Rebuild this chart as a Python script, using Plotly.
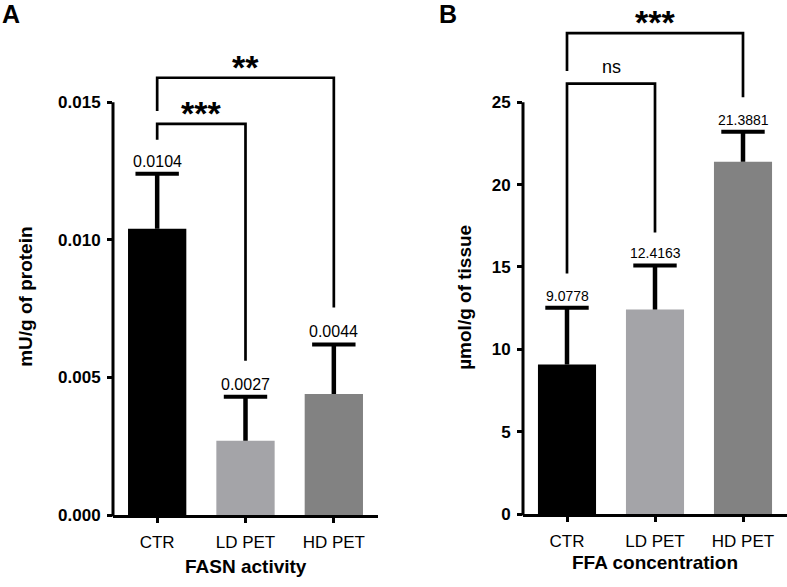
import plotly.graph_objects as go

# ---------------- data ----------------
categories = ["CTR", "LD PET", "HD PET"]
bar_colors = ["#000000", "#a4a4a8", "#828282"]

fasn_mean = [0.0104, 0.0027, 0.0044]
fasn_err = [0.0020, 0.0016, 0.0018]
fasn_ticks = [0.0, 0.005, 0.010, 0.015]
fasn_ticktext = ["0.000", "0.005", "0.010", "0.015"]

ffa_mean = [9.0778, 12.4163, 21.3881]
ffa_err = [3.45, 2.68, 1.82]
ffa_ticks = [0, 5, 10, 15, 20, 25]

# significance brackets: (cat_a, cat_b, leg_a_bottom, top, leg_b_bottom, label)
fasn_brackets = [
    ("CTR", "LD PET", 0.01364, 0.01421, 0.00561, "***"),
    ("CTR", "HD PET", 0.01468, 0.01589, 0.00754, "**"),
]
ffa_brackets = [
    ("CTR", "LD PET", 14.6, 26.13, 17.1, "ns"),
    ("CTR", "HD PET", 26.9, 29.2, 25.3, "***"),
]

# ---------------- layout constants ----------------
W, H = 787, 587
FONT = "Liberation Sans, Arial, sans-serif"
A_YMAX, B_YMAX = 0.0168, 30.0
A_XDOM = [113 / W, 378 / W]
B_XDOM = [523 / W, 787 / W]
A_YDOM = [1 - 524 / H, 1 - 53.6 / H]
B_YDOM = [1 - 523 / H, 1 - 20.2 / H]
LW = 3.0
BLW = 2.7

fig = go.Figure()


def add_panel(fig, xa, ya, means, errs, brackets, lab_size, star_size):
    tops = [m + e for m, e in zip(means, errs)]
    fig.add_trace(go.Bar(
        x=categories, y=means, xaxis=xa, yaxis=ya,
        marker=dict(color=bar_colors, line=dict(width=0)),
        width=0.66,
        error_y=dict(type="data", symmetric=False, array=errs,
                     arrayminus=[0] * len(errs), color="black",
                     thickness=4.5, width=0),
        showlegend=False, hoverinfo="skip",
    ))
    # error-bar caps (top only)
    fig.add_trace(go.Scatter(
        x=categories, y=tops, xaxis=xa, yaxis=ya, mode="markers",
        marker=dict(symbol="line-ew", size=31, color="black",
                    line=dict(width=4, color="black")),
        showlegend=False, hoverinfo="skip", cliponaxis=False,
    ))
    for c, m, t in zip(categories, means, tops):
        fig.add_annotation(x=c, y=t, xref=xa, yref=ya, text=f"{m:.4f}",
                           showarrow=False, yanchor="bottom", yshift=2,
                           font=dict(family=FONT, size=lab_size, color="black"))
    for a, b, la, top, lb, txt in brackets:
        fig.add_trace(go.Scatter(
            x=[a, a, b, b], y=[la, top, top, lb], xaxis=xa, yaxis=ya,
            mode="lines", line=dict(color="black", width=BLW),
            showlegend=False, hoverinfo="skip",
        ))
        ia, ib = categories.index(a), categories.index(b)
        if txt == "ns":
            fig.add_annotation(x=(ia + ib) / 2, y=top, xref=xa, yref=ya, text=txt,
                               showarrow=False, yanchor="bottom", yshift=5,
                               font=dict(family=FONT, size=18, color="black"))
        else:
            fig.add_annotation(x=(ia + ib) / 2, y=top, xref=xa, yref=ya,
                               text=f"<b>{txt}</b>",
                               showarrow=False, yanchor="bottom", yshift=-10,
                               font=dict(family=FONT, size=star_size, color="black"))


add_panel(fig, "x", "y", fasn_mean, fasn_err, fasn_brackets, 16, 34)
add_panel(fig, "x2", "y2", ffa_mean, ffa_err, ffa_brackets, 14, 34)

xcommon = dict(showline=True, linecolor="black", linewidth=LW, ticks="outside",
               ticklen=5, tickwidth=LW, tickcolor="black", showgrid=False,
               zeroline=False, range=[-0.5, 2.5], fixedrange=True,
               tickfont=dict(family=FONT, size=17, color="black"),
               ticklabelstandoff=5)
ycommon = dict(showline=False, ticks="outside", ticklen=5, tickwidth=LW,
               tickcolor="black", showgrid=False, zeroline=False,
               tickfont=dict(family=FONT, size=17, color="black", weight="bold"),
               ticklabelstandoff=3)

fig.update_layout(
    width=W, height=H, margin=dict(l=0, r=0, t=0, b=0),
    paper_bgcolor="white", plot_bgcolor="white",
    xaxis=dict(domain=A_XDOM, anchor="y", **xcommon),
    yaxis=dict(domain=A_YDOM, anchor="x", range=[0, A_YMAX],
               tickvals=fasn_ticks, ticktext=fasn_ticktext, **ycommon),
    xaxis2=dict(domain=B_XDOM, anchor="y2", **xcommon),
    yaxis2=dict(domain=B_YDOM, anchor="x2", range=[0, B_YMAX],
                tickvals=ffa_ticks, **ycommon),
)

# y-axis lines that stop at the top tick (as in the original)
for dom, xdom, ymax, ytop in [(A_YDOM, A_XDOM, A_YMAX, fasn_ticks[-1]),
                              (B_YDOM, B_XDOM, B_YMAX, ffa_ticks[-1])]:
    y1 = dom[0] + (ytop / ymax) * (dom[1] - dom[0])
    fig.add_shape(type="line", xref="paper", yref="paper",
                  x0=xdom[0], x1=xdom[0], y0=dom[0] - 1.5 / H, y1=y1,
                  line=dict(color="black", width=LW), layer="above")

# titles and panel letters
texts = [
    ("<b>A</b>", 0 / W, 1 - 14 / H, 0, "left", 25),
    ("<b>B</b>", 437 / W, 1 - 14 / H, 0, "left", 25),
    ("<b>FASN activity</b>", 246 / W, 1 - 576 / H, 0, "center", 19),
    ("<b>FFA concentration</b>", 655 / W, 1 - 572 / H, 0, "center", 19),
    ("<b>mU/g of protein</b>", 26 / W, 1 - 302 / H, -90, "center", 19),
    ("<b>µmol/g of tissue</b>", 465 / W, 1 - 303 / H, -90, "center", 19),
]
for t, x, y, ang, xa, sz in texts:
    fig.add_annotation(text=t, x=x, y=y, xref="paper", yref="paper",
                       xanchor=xa, yanchor="middle", textangle=ang,
                       showarrow=False,
                       font=dict(family=FONT, size=sz, color="black"))

fig.write_html("out.html")
